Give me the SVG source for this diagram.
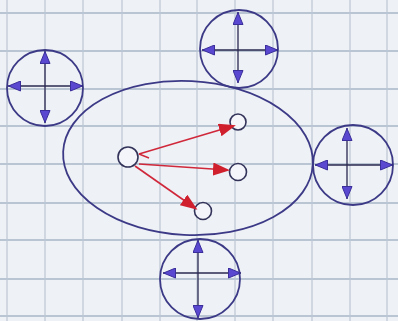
<svg xmlns="http://www.w3.org/2000/svg" width="398" height="321" viewBox="0 0 398 321">
<defs>
<style>
.bg{fill:#eef1f6}
.gh{stroke:#a9b6c8;stroke-width:1.4}
.gv{stroke:#bcc6d4;stroke-width:1.2}
.ring{fill:none;stroke:#3c3a86;stroke-width:1.8}
.cross{fill:none;stroke:#2a2850;stroke-width:1.3;marker-start:url(#pa);marker-end:url(#pa)}
.red{fill:none;stroke:#d0283a;stroke-width:1.6;marker-end:url(#ra)}
.small{fill:#f4f5fa;stroke:#33335a;stroke-width:1.6}
</style>
<marker id="pa" viewBox="0 0 13 11" refX="13" refY="5.5" markerWidth="13" markerHeight="11" markerUnits="userSpaceOnUse" orient="auto-start-reverse">
<path d="M0.5,0.5 L12.5,5.5 L0.5,10.5 z" fill="#5a48d0" stroke="#3a2e9a" stroke-width="1"/>
</marker>
<marker id="ra" viewBox="0 0 17 13" refX="14" refY="6.5" markerWidth="17" markerHeight="13" markerUnits="userSpaceOnUse" orient="auto">
<path d="M0,0 L17,6.5 L0,13 z" fill="#d0202e"/>
</marker>
</defs>
<rect class="bg" width="398" height="321"/>
<g id="grid">
<line class="gh" x1="0" y1="13" x2="398" y2="13"/>
<line class="gh" x1="0" y1="51" x2="398" y2="51"/>
<line class="gh" x1="0" y1="89" x2="398" y2="89"/>
<line class="gh" x1="0" y1="126" x2="398" y2="126"/>
<line class="gh" x1="0" y1="164" x2="398" y2="164"/>
<line class="gh" x1="0" y1="203" x2="398" y2="203"/>
<line class="gh" x1="0" y1="240" x2="398" y2="240"/>
<line class="gh" x1="0" y1="279" x2="398" y2="279"/>
<line class="gh" x1="0" y1="316" x2="398" y2="316"/>
<line class="gv" x1="7" y1="0" x2="7" y2="321"/>
<line class="gv" x1="45" y1="0" x2="45" y2="321"/>
<line class="gv" x1="83" y1="0" x2="83" y2="321"/>
<line class="gv" x1="122" y1="0" x2="122" y2="321"/>
<line class="gv" x1="160" y1="0" x2="160" y2="321"/>
<line class="gv" x1="197" y1="0" x2="197" y2="321"/>
<line class="gv" x1="235" y1="0" x2="235" y2="321"/>
<line class="gv" x1="273" y1="0" x2="273" y2="321"/>
<line class="gv" x1="312" y1="0" x2="312" y2="321"/>
<line class="gv" x1="350" y1="0" x2="350" y2="321"/>
<line class="gv" x1="387" y1="0" x2="387" y2="321"/>
</g>
<g id="region">
<ellipse class="ring" cx="188" cy="158" rx="125" ry="77" transform="rotate(3 188 158)"/>
</g>
<g id="node-topleft">
<circle class="ring" cx="45" cy="88" r="38"/>
<line class="cross" x1="8" y1="86" x2="83" y2="86"/>
<line class="cross" x1="45" y1="51" x2="45" y2="123"/>
</g>
<g id="node-top">
<circle class="ring" cx="239" cy="49" r="39"/>
<line class="cross" x1="202" y1="50" x2="278" y2="50"/>
<line class="cross" x1="238" y1="12" x2="238" y2="83"/>
</g>
<g id="node-right">
<circle class="ring" cx="353" cy="165" r="40"/>
<line class="cross" x1="315" y1="165" x2="393" y2="165"/>
<line class="cross" x1="347" y1="128" x2="347" y2="199"/>
</g>
<g id="node-bottom">
<circle class="ring" cx="200" cy="279" r="40"/>
<line class="cross" x1="163" y1="273" x2="241" y2="273"/>
<line class="cross" x1="198" y1="240" x2="198" y2="318"/>
</g>
<g id="node-source"><circle class="small" cx="128" cy="157" r="10"/></g>
<g id="node-t1"><circle class="small" cx="238" cy="122" r="8"/></g>
<g id="node-t2"><circle class="small" cx="238" cy="172" r="8.5"/></g>
<g id="node-t3"><circle class="small" cx="203" cy="211" r="8.5"/></g>
<g id="connectors">
<line class="red" x1="139" y1="154" x2="233" y2="126"/>
<line class="red" x1="139" y1="164" x2="227" y2="170"/>
<line class="red" x1="135" y1="166" x2="195" y2="208"/>
<path d="M139,154 L149,158" fill="none" stroke="#d0283a" stroke-width="1.4"/>
</g>
</svg>
